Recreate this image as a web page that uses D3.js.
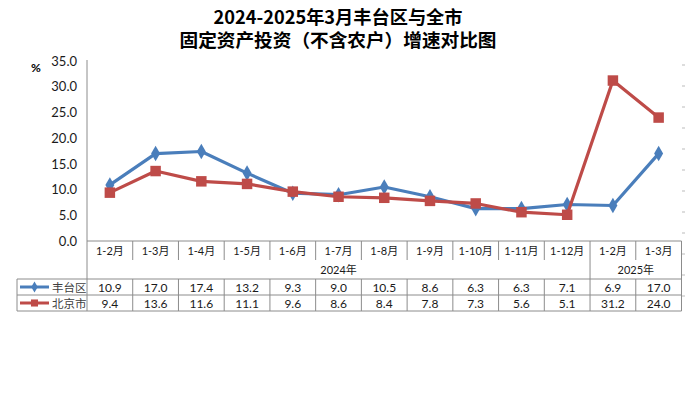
<!DOCTYPE html>
<html>
<head>
<meta charset="utf-8">
<script src="https://cdn.jsdelivr.net/npm/d3@7"></script>
<style>
  body { margin: 0; background: #fff; }
  svg { display: block; font-family: Lato, "Noto Sans CJK SC", sans-serif; }
</style>
</head>
<body>
<svg id="chart" width="685" height="397"></svg>
<script>
// data
var categories = ["1-2月","1-3月","1-4月","1-5月","1-6月","1-7月","1-8月","1-9月","1-10月","1-11月","1-12月","1-2月","1-3月"];
var years = [{label:"2024年", from:0, to:10}, {label:"2025年", from:11, to:12}];
var fengtai = [10.9,17.0,17.4,13.2,9.3,9.0,10.5,8.6,6.3,6.3,7.1,6.9,17.0];
var beijing = [9.4,13.6,11.6,11.1,9.6,8.6,8.4,7.8,7.3,5.6,5.1,31.2,24.0];
var yTicks = [0,5,10,15,20,25,30,35];
var series = [
  {name:"丰台区", values:fengtai, color:"#4a7ebb", marker:"diamond"},
  {name:"北京市", values:beijing, color:"#be4b48", marker:"square"}
];

var svg = d3.select("#chart"),
    plotLeft = 87, plotRight = 681.5, plotTop = 61, plotBottom = 241,
    grey = "#8c8c8c";

var x = d3.scaleBand().domain(d3.range(categories.length)).range([plotLeft, plotRight]);
var y = d3.scaleLinear().domain([0,35]).range([plotBottom, plotTop]);

// title
svg.append("text").attr("x",338).attr("y",24).attr("text-anchor","middle")
    .style("font-family","'Noto Sans CJK SC'").style("font-weight","bold").style("font-size","18px")
    .attr("textLength",249).attr("lengthAdjust","spacingAndGlyphs").text("2024-2025年3月丰台区与全市");
svg.append("text").attr("x",338).attr("y",47).attr("text-anchor","middle")
    .style("font-family","'Noto Sans CJK SC'").style("font-weight","bold").style("font-size","18px")
    .attr("textLength",317).attr("lengthAdjust","spacingAndGlyphs").text("固定资产投资（不含农户）增速对比图");

svg.append("text").attr("x",36).attr("y",72).attr("text-anchor","middle")
    .style("font-size","12px").style("font-weight","bold").text("%");

// y axis
var yAxis = d3.axisLeft(y).tickValues(yTicks).tickSize(0).tickPadding(10).tickFormat(d3.format(".1f"));
var ya = svg.append("g").attr("transform","translate("+plotLeft+",0)").call(yAxis);
ya.select(".domain").remove();
ya.selectAll("text").style("font-family","Lato").style("font-size","13px").attr("fill","#1a1a1a");

// faint marks at the right edge
d3.range(65, 300, 21).forEach(function(v){
  svg.append("line").attr("x1",682).attr("x2",685).attr("y1",v).attr("y2",v)
     .attr("stroke","#bbb").attr("stroke-width",1);
});

// table lines
var g = svg.append("g").attr("stroke",grey).attr("stroke-width",1).attr("fill","none");
g.append("line").attr("x1",plotLeft).attr("x2",plotLeft).attr("y1",plotTop-1).attr("y2",311);
g.append("line").attr("x1",plotLeft).attr("x2",plotRight).attr("y1",plotBottom).attr("y2",plotBottom);
g.append("line").attr("x1",plotRight).attr("x2",plotRight).attr("y1",plotBottom).attr("y2",311);
[279,295,311].forEach(function(v){
  g.append("line").attr("x1",17).attr("x2",plotRight).attr("y1",v).attr("y2",v);
});
g.append("line").attr("x1",17).attr("x2",17).attr("y1",279).attr("y2",311);
d3.range(1, categories.length).forEach(function(i){
  var xx = x(i);
  var groupEdge = years.some(function(yr){ return yr.from === i; });
  g.append("line").attr("x1",xx).attr("x2",xx).attr("y1",plotBottom).attr("y2", groupEdge ? 279 : 260);
  g.append("line").attr("x1",xx).attr("x2",xx).attr("y1",279).attr("y2",311);
});

// category labels
svg.append("g").selectAll("text").data(categories).join("text")
  .attr("x", function(d,i){ return x(i)+x.bandwidth()/2; })
  .attr("y", 255).attr("text-anchor","middle")
  .style("font-size","11px").attr("fill","#1a1a1a").text(function(d){ return d; });

svg.append("g").selectAll("text").data(years).join("text")
  .attr("x", function(d){ return (x(d.from)+x(d.to)+x.bandwidth())/2; })
  .attr("y", 274).attr("text-anchor","middle")
  .style("font-size","11px").attr("fill","#1a1a1a").text(function(d){ return d.label; });

// marker shapes
function markerPath(type, size){
  return d3.symbol().type(type === "diamond" ? d3.symbolDiamond : d3.symbolSquare).size(size)();
}

// table rows with legend
series.forEach(function(s, k){
  var rowY = 287 + k*16;
  svg.append("line").attr("x1",20).attr("x2",49).attr("y1",rowY).attr("y2",rowY)
     .attr("stroke",s.color).attr("stroke-width",3);
  svg.append("path").attr("d", markerPath(s.marker, s.marker === "diamond" ? 36 : 50))
     .attr("transform","translate(34.5,"+rowY+")").attr("fill",s.color);
  svg.append("text").attr("x",52).attr("y",rowY+4.5)
     .style("font-family","'Noto Sans CJK SC'").style("font-size","11.5px").attr("fill","#404040").text(s.name);
  svg.append("g").selectAll("text").data(s.values).join("text")
    .attr("x", function(d,i){ return x(i)+x.bandwidth()/2; })
    .attr("y", rowY+4.5).attr("text-anchor","middle")
    .style("font-size","12px").attr("fill","#1a1a1a").text(function(d){ return d.toFixed(1); });
});

// lines and markers
var line = d3.line().x(function(d,i){ return x(i)+x.bandwidth()/2; }).y(function(d){ return y(d); });
series.forEach(function(s){
  svg.append("path").datum(s.values).attr("d", line)
     .attr("fill","none").attr("stroke",s.color).attr("stroke-width",3.2).attr("stroke-linejoin","round");
  svg.append("g").selectAll("path").data(s.values).join("path")
    .attr("d", markerPath(s.marker, s.marker === "diamond" ? 70 : 110))
    .attr("transform", function(d,i){ return "translate("+(x(i)+x.bandwidth()/2)+","+y(d)+")"; })
    .attr("fill", s.color);
});
</script>
</body>
</html>
